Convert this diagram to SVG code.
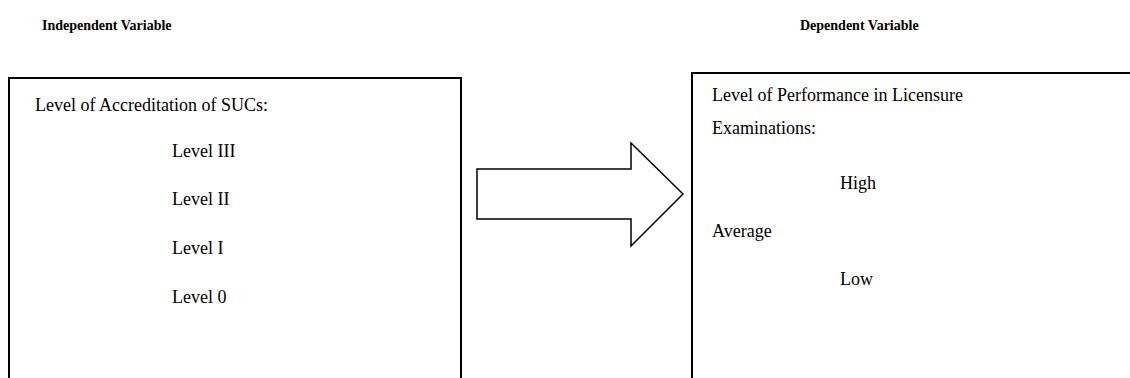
<svg xmlns="http://www.w3.org/2000/svg" width="1130" height="378" viewBox="0 0 1130 378">
<style>
.h{font-family:"Liberation Serif","Times New Roman",serif;font-size:14px;font-weight:bold;fill:#000}
.t{font-family:"Liberation Serif","Times New Roman",serif;font-size:18px;fill:#000}
.box{fill:#fff;stroke:#000;stroke-width:2}
</style>
<rect width="1130" height="378" fill="#fff"/>
<text class="h" x="42" y="30">Independent Variable</text>
<text class="h" x="800" y="30">Dependent Variable</text>
<g id="independent">
<rect class="box" x="9" y="78" width="452" height="320"/>
<text class="t" x="35" y="111">Level of Accreditation of SUCs:</text>
<text class="t" x="172" y="157">Level III</text>
<text class="t" x="172" y="205">Level II</text>
<text class="t" x="172" y="254">Level I</text>
<text class="t" x="172" y="303">Level 0</text>
</g>
<g id="dependent">
<rect class="box" x="692" y="73" width="460" height="320"/>
<text class="t" x="712" y="101">Level of Performance in Licensure</text>
<text class="t" x="712" y="134">Examinations:</text>
<text class="t" x="840" y="189">High</text>
<text class="t" x="712" y="237">Average</text>
<text class="t" x="840" y="285">Low</text>
</g>
<g id="connectors">
<polygon points="477,169 631,169 631,143 683,194 631,246 631,219 477,219" fill="#fff" stroke="#000" stroke-width="1.5"/>
</g>
</svg>
